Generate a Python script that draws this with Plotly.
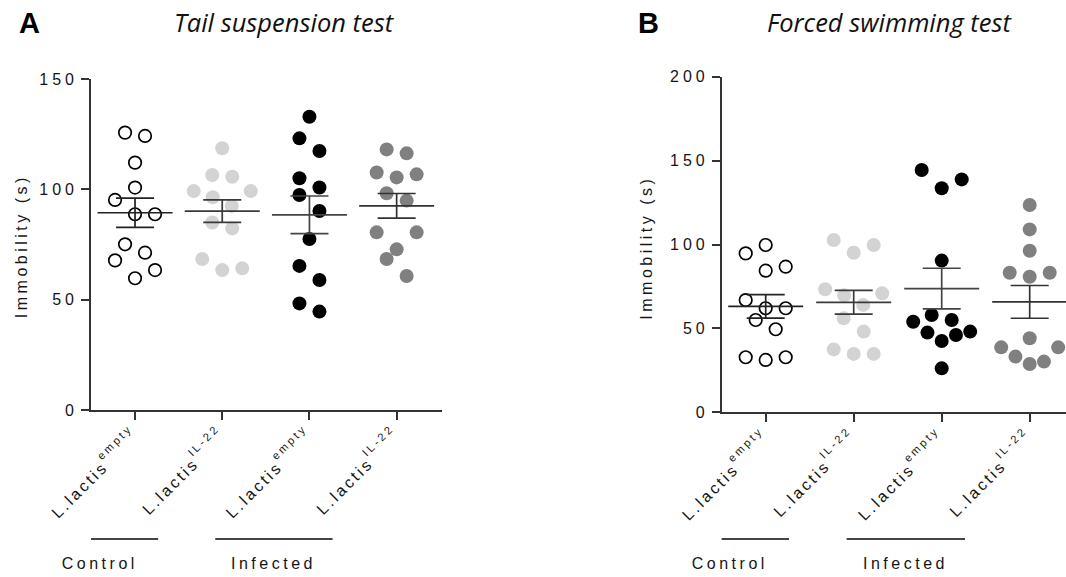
import numpy as np
import plotly.graph_objects as go

# ---------------- data ----------------
categories = ["L.lactis<sup>empty</sup>", "L.lactis<sup>IL-22</sup>",
              "L.lactis<sup>empty</sup>", "L.lactis<sup>IL-22</sup>"]
groups = ["Control", "Infected"]
group_members = [[0, 1], [2, 3]]

# Tail suspension test, immobility (s)
tst_ctrl_empty = [125.7, 124.2, 112.1, 100.8, 95.2, 88.7, 88.7, 75.1, 71.3, 67.8, 63.4, 59.7]
tst_ctrl_il22 = [118.6, 106.5, 105.7, 99.2, 99.2, 96.4, 92.5, 85.0, 82.3, 68.4, 64.2, 63.4]
tst_inf_empty = [132.9, 123.1, 117.4, 105.0, 100.8, 97.4, 90.2, 77.5, 65.3, 58.9, 48.3, 44.6]
tst_inf_il22 = [118.1, 116.3, 107.6, 106.8, 105.4, 98.2, 94.9, 80.5, 80.5, 72.8, 68.4, 60.7]

# Forced swimming test, immobility (s)
fst_ctrl_empty = [99.7, 94.7, 86.8, 84.4, 66.9, 62.0, 62.0, 55.0, 49.5, 32.8, 32.8, 31.2]
fst_ctrl_il22 = [102.7, 99.7, 95.1, 73.3, 70.9, 69.7, 64.0, 56.0, 48.1, 37.5, 34.8, 34.8]
fst_inf_empty = [144.4, 138.8, 133.5, 90.4, 58.0, 55.0, 54.0, 48.1, 47.5, 46.1, 42.5, 26.2]
fst_inf_il22 = [123.5, 109.0, 96.3, 83.2, 83.2, 80.8, 44.1, 38.7, 38.7, 33.2, 30.2, 28.8]

tst_series = [tst_ctrl_empty, tst_ctrl_il22, tst_inf_empty, tst_inf_il22]
fst_series = [fst_ctrl_empty, fst_ctrl_il22, fst_inf_empty, fst_inf_il22]

y_ticks_a = [0, 50, 100, 150]
y_ticks_b = [0, 50, 100, 150, 200]

# ---------------- layout geometry ----------------
W, H = 1066, 577
FONT = "Liberation Sans, Arial, sans-serif"
TXT = "#151515"
AX = "#333333"

dom_xa = [91 / W, 442 / W]
dom_ya = [(H - 410) / H, (H - 79) / H]
dom_xb = [721.7 / W, 1.0]
dom_yb = [(H - 412.3) / H, (H - 76.7) / H]
rng_xa = [-0.505, 3.52]
rng_xb = [-0.5, 3.4125]
rng_ya = [0, 150]
rng_yb = [0, 200]

fill_colors = ["white", "#d3d3d3", "#000000", "#808080"]
line_colors = ["#000000", "#d3d3d3", "#000000", "#808080"]
bar_colors = ["#222222", "#3a3a3a", "#444444", "#333333"]


def swarm_offsets(values, units_per_px, px_per_cat, row_px=20.0, step_px=20.0, max_span_px=57.0):
    vals = np.asarray(values, float)
    order = list(np.argsort(vals, kind="stable"))
    offs = np.zeros(len(vals))
    h = row_px * units_per_px
    i = 0
    while i < len(order):
        start = vals[order[i]]
        row = [order[i]]
        j = i + 1
        while j < len(order) and vals[order[j]] - start <= h:
            row.append(order[j])
            j += 1
        n = len(row)
        step = min(step_px, max_span_px / (n - 1)) if n > 1 else 0.0
        slots = [(k - (n - 1) / 2.0) * step for k in range(n)]
        row_desc = sorted(row, key=lambda r: -vals[r])
        slot_order = []
        lo, hi = 0, n - 1
        while lo <= hi:
            slot_order.append(lo)
            if hi != lo:
                slot_order.append(hi)
            lo += 1
            hi -= 1
        for r, s in zip(row_desc, slot_order):
            offs[r] = slots[s] / px_per_cat
        i = j
    return offs


fig = go.Figure()


def add_panel(series, xa, ya, dom_x, dom_y, rng_x, rng_y):
    px_per_cat = (dom_x[1] - dom_x[0]) * W / (rng_x[1] - rng_x[0])
    px_per_unit = (dom_y[1] - dom_y[0]) * H / (rng_y[1] - rng_y[0])
    units_per_px = 1.0 / px_per_unit
    for i, vals in enumerate(series):
        offs = swarm_offsets(vals, units_per_px, px_per_cat)
        fig.add_trace(go.Scatter(
            x=i + offs, y=vals, xaxis=xa, yaxis=ya, mode="markers",
            cliponaxis=False, showlegend=False, hoverinfo="y",
            marker=dict(size=14 if i else 12.5, color=fill_colors[i],
                        line=dict(color=line_colors[i], width=1.7 if i == 0 else 0)),
        ))
    hw = 37.5 / px_per_cat
    for i, vals in enumerate(series):
        v = np.asarray(vals, float)
        m = v.mean()
        sem = v.std(ddof=1) / np.sqrt(len(v))
        fig.add_trace(go.Scatter(
            x=[i - hw, i + hw], y=[m, m], xaxis=xa, yaxis=ya, mode="lines",
            line=dict(color=bar_colors[i], width=1.7), showlegend=False, hoverinfo="skip",
        ))
        fig.add_trace(go.Scatter(
            x=[i], y=[m], xaxis=xa, yaxis=ya, mode="markers",
            marker=dict(size=1, color="rgba(0,0,0,0)"), showlegend=False, hoverinfo="skip",
            error_y=dict(type="data", array=[sem], visible=True, color=bar_colors[i],
                         thickness=1.7, width=19),
        ))


add_panel(tst_series, "x", "y", dom_xa, dom_ya, rng_xa, rng_ya)
add_panel(fst_series, "x2", "y2", dom_xb, dom_yb, rng_xb, rng_yb)

axis_common = dict(showline=True, linecolor=AX, linewidth=1.6, ticks="outside", ticklen=8,
                   tickwidth=1.6, tickcolor=AX, showgrid=False, zeroline=False,
                   automargin=False, fixedrange=True)
xfont = dict(family=FONT, size=16, color=TXT)
yfont = dict(family=FONT, size=16, color=TXT)

fig.update_layout(
    width=W, height=H, margin=dict(l=0, r=0, t=0, b=0),
    paper_bgcolor="white", plot_bgcolor="white", showlegend=False,
    xaxis=dict(domain=dom_xa, range=rng_xa, anchor="y", tickmode="array",
               tickvals=list(range(len(categories))), ticktext=categories,
               tickangle=-45, tickfont=xfont, **axis_common),
    yaxis=dict(domain=dom_ya, range=rng_ya, anchor="x", tickmode="array",
               tickvals=y_ticks_a, tickfont=yfont, **axis_common),
    xaxis2=dict(domain=dom_xb, range=rng_xb, anchor="y2", tickmode="array",
                tickvals=list(range(len(categories))), ticktext=categories,
                tickangle=-45, tickfont=xfont, **axis_common),
    yaxis2=dict(domain=dom_yb, range=rng_yb, anchor="x2", tickmode="array",
                tickvals=y_ticks_b, tickfont=yfont, **axis_common),
)

annotations = []
shapes = []
for letter, lx, title, tx in [("A", 17, "Tail suspension test", 284),
                              ("B", 636, "Forced swimming test", 889)]:
    annotations.append(dict(text="<b>" + letter + "</b>", x=lx / W, y=(H - 23) / H,
                            xref="paper", yref="paper", xanchor="left", yanchor="middle",
                            showarrow=False, font=dict(family=FONT, size=29, color="#000")))
    annotations.append(dict(text="<i>" + title + "</i>", x=tx / W, y=(H - 22) / H,
                            xref="paper", yref="paper", xanchor="center", yanchor="middle",
                            showarrow=False, font=dict(family="Open Sans", size=25.5, color="#111")))
for yx, yy in [(21.7, 246), (646.7, 247.5)]:
    annotations.append(dict(text="Immobility (s)", x=yx / W, y=(H - yy) / H, xref="paper",
                            yref="paper", xanchor="center", yanchor="middle", textangle=-90,
                            showarrow=False, font=dict(family=FONT, size=16, color=TXT)))
for xr in ["x", "x2"]:
    for g, members in zip(groups, group_members):
        first = members[0]
        x0, x1 = first - 1.08, first + 0.265
        shapes.append(dict(type="line", xref=xr, yref="paper", x0=x0, x1=x1,
                           y0=(H - 539) / H, y1=(H - 539) / H,
                           line=dict(color="#444444", width=2)))
        annotations.append(dict(text=g, x=(x0 + x1) / 2, y=(H - 563) / H, xref=xr, yref="paper",
                                xanchor="center", yanchor="middle", showarrow=False,
                                font=dict(family=FONT, size=16, color=TXT)))
fig.update_layout(annotations=annotations, shapes=shapes)

post = """
document.documentElement.style.margin='0';
document.body.style.margin='0';
document.body.style.padding='0';
var gd = document.getElementById('{plot_id}');
function spacing(){
  gd.querySelectorAll('.xtick text, .x2tick text').forEach(function(t){
    t.style.letterSpacing='2.8px';
    t.querySelectorAll('tspan').forEach(function(ts){
      var dy = ts.getAttribute('dy');
      if (dy && dy.indexOf('-') === 0) ts.setAttribute('dy', '-0.95em');
    });
  });
  gd.querySelectorAll('.ytick text, .y2tick text').forEach(function(t){t.style.letterSpacing='4px';});
  gd.querySelectorAll('.annotation-text').forEach(function(t){
    var s = t.textContent;
    if (s === 'Control' || s === 'Infected' || s === 'Immobility (s)') t.style.letterSpacing='3.5px';
  });
}
spacing();
"""
fig.write_html("out.html", post_script=post, config={"displayModeBar": False})
